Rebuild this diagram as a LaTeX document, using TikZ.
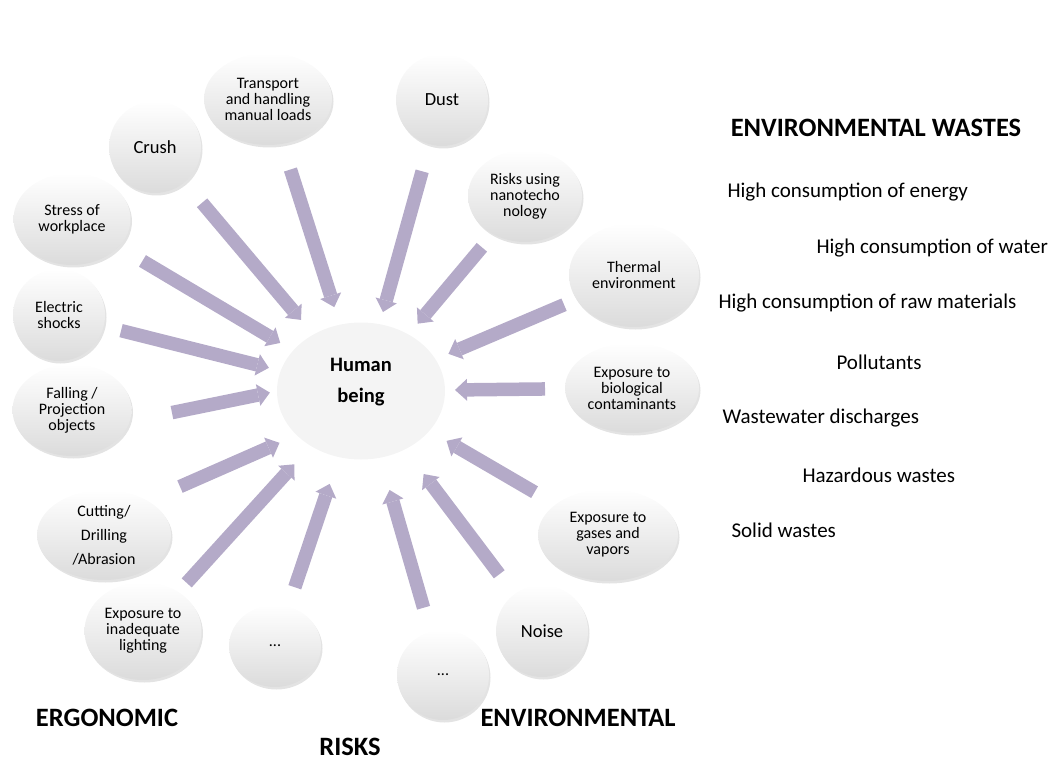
\documentclass[tikz,border=0pt]{standalone}
\usepackage{fontspec}
\setmainfont{Carlito}
\usetikzlibrary{arrows.meta,shapes.geometric,shadows}
\definecolor{lavarrow}{RGB}{180,170,200}
\definecolor{hubgray}{RGB}{244,244,244}
\tikzset{
  riskball/.style={ellipse, inner sep=0pt, top color=white, bottom color=black!14,
    drop shadow={opacity=0.22, shadow xshift=1.5pt, shadow yshift=-2.5pt},
    align=center, font=\fontsize{16}{16}\selectfont},
  bigword/.style={font=\fontsize{18.5}{20}\selectfont},
  flow/.style={line width=13.5pt, draw=lavarrow, -{Triangle[length=12pt,width=22pt,line width=0pt]}},
  biglab/.style={font=\bfseries\fontsize{26.5}{30}\selectfont},
  wastelab/.style={anchor=west, font=\fontsize{21}{24}\selectfont},
}

\begin{document}
\begin{tikzpicture}[x=1pt,y=-1pt]
  \useasboundingbox (0,0) rectangle (1050,762);
  % centre
  \node[ellipse, fill=hubgray, minimum width=168pt, minimum height=137pt] (hb) at (361,391) {};
  \node[font=\bfseries\fontsize{20.5}{31}\selectfont, align=center] (hbt) at (361,382) {Human\\being};
  % risks round the centre
  \node[riskball, minimum width=128pt, minimum height=92pt] (tr) at (268,99) {Transport\\and handling\\manual loads};
  \node[riskball, bigword, minimum width=92pt, minimum height=92pt] (cr) at (155,147) {Crush};
  \node[riskball, minimum width=117pt, minimum height=92pt] (st) at (72,219) {Stress of\\workplace};
  \node[riskball, minimum width=92pt, minimum height=92pt] (el) at (59,315) {Electric\\shocks};
  \node[riskball, minimum width=119pt, minimum height=92pt] (fa) at (72,410) {Falling /\\Projection\\objects};
  \node[riskball, font=\fontsize{16}{24}\selectfont, minimum width=134pt, minimum height=90pt] (cu) at (104,535) {Cutting/\\Drilling\\/Abrasion};
  \node[riskball, minimum width=117pt, minimum height=98pt] (li) at (143,631) {Exposure to\\inadequate\\lighting};
  \node[riskball, minimum width=92pt, minimum height=82pt] (dl) at (275,646) {...};
  \node[riskball, minimum width=92pt, minimum height=90pt] (dr) at (443,675) {...};
  \node[riskball, bigword, minimum width=92pt, minimum height=92pt] (no) at (542,631) {Noise};
  \node[riskball, minimum width=140pt, minimum height=92pt] (ga) at (608,535) {Exposure to\\gases and\\vapors};
  \node[riskball, minimum width=134pt, minimum height=90pt] (bi) at (632,388) {Exposure to\\biological\\contaminants};
  \node[riskball, minimum width=130pt, minimum height=104pt] (th) at (634,275) {Thermal\\environment};
  \node[riskball, minimum width=114pt, minimum height=92pt] (na) at (525,196) {Risks using\\nanotecho\\nology};
  \node[riskball, bigword, minimum width=92pt, minimum height=92pt] (du) at (442,100) {Dust};
  % arrows into the centre (source / target shifted up by u / v)
  \foreach \s/\a/\b/\u/\v in {tr/74/88/0/0, cr/73/93/0/0, st/82/94/0/0, el/64/95/0/0, fa/102/93/-23/17,
      cu/83/89/15/-16, li/65/99/0/0, dl/62/98/0/0, dr/70/103/0/0, no/71/104/0/0, ga/85/99/0/0,
      bi/87/94/0/0, th/76/95/0/0, na/67/88/0/0, du/74/82/0/0}
    \draw[flow, shorten <=\a pt, shorten >=\b pt] ([yshift=\u pt]\s.center) -- ([yshift=\v pt]hb.center);
  % group labels
  \node[biglab] (erg) at (107,718) {ERGONOMIC};
  \node[biglab] (rsk) at (350,747) {RISKS};
  \node[biglab] (env) at (578,718) {ENVIRONMENTAL};
  \node[biglab] (ew) at (876,128) {ENVIRONMENTAL WASTES};
  % waste list
  \node[wastelab] (w1) at (724,192) {High consumption of energy};
  \node[wastelab] (w2) at (813,248) {High consumption of water};
  \node[wastelab] (w3) at (715,303) {High consumption of raw materials};
  \node[wastelab] (w4) at (833,362) {Pollutants};
  \node[wastelab] (w5) at (719,418) {Wastewater discharges};
  \node[wastelab] (w6) at (799,475) {Hazardous wastes};
  \node[wastelab] (w7) at (728,530) {Solid wastes};
\end{tikzpicture}
\end{document}
